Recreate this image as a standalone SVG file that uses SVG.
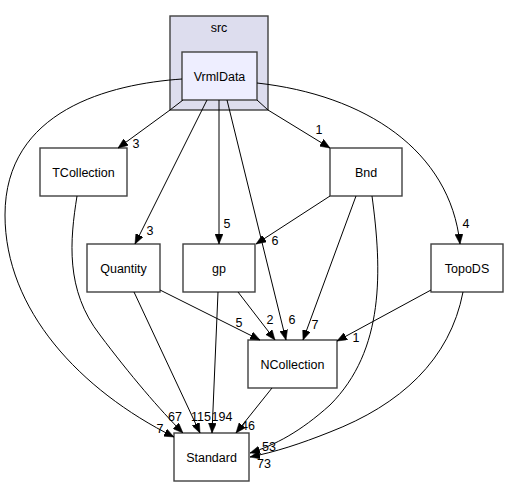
<svg xmlns="http://www.w3.org/2000/svg" width="509" height="489" viewBox="0 0 509 489">
<style>
.n rect{fill:#ffffff;stroke:#404040;stroke-width:1.4}
text{font-family:"Liberation Sans",Arial,sans-serif;font-size:12.5px;fill:#000}
.t{text-anchor:middle}
.e path{fill:none;stroke:#000;stroke-width:1;marker-end:url(#ah)}
.e text{font-size:12.5px}
</style>
<defs>
<marker id="ah" markerUnits="userSpaceOnUse" markerWidth="10" markerHeight="8" refX="10" refY="4" orient="auto">
<path d="M0,0 L10,4 L0,8 z" fill="#000" stroke="#000" stroke-width="0.5"/>
</marker>
</defs>
<rect width="509" height="489" fill="#fff"/>
<g id="cluster_src">
<rect x="170" y="16" width="98" height="94" fill="#ddddee" stroke="#404040" stroke-width="1.4"/>
<text x="219" y="32" class="t">src</text>
</g>
<g id="VrmlData" class="n">
<rect x="182" y="52" width="75" height="48" style="fill:#eeeeff"/>
<text x="219.5" y="81" class="t">VrmlData</text>
</g>
<g id="TCollection" class="n">
<rect x="40" y="148" width="87" height="48"/>
<text x="83.5" y="177" class="t">TCollection</text>
</g>
<g id="Bnd" class="n">
<rect x="330" y="148" width="72" height="48"/>
<text x="366" y="177" class="t">Bnd</text>
</g>
<g id="Quantity" class="n">
<rect x="87" y="244" width="73" height="48"/>
<text x="123.5" y="273" class="t">Quantity</text>
</g>
<g id="gp" class="n">
<rect x="183" y="244" width="72" height="48"/>
<text x="219" y="273" class="t">gp</text>
</g>
<g id="TopoDS" class="n">
<rect x="431" y="244" width="72" height="48"/>
<text x="467" y="273" class="t">TopoDS</text>
</g>
<g id="NCollection" class="n">
<rect x="248" y="340" width="89" height="48"/>
<text x="292.5" y="369" class="t">NCollection</text>
</g>
<g id="Standard" class="n">
<rect x="174" y="433" width="75" height="48"/>
<text x="211.5" y="462" class="t">Standard</text>
</g>
<g id="edges" class="e">
<path d="M182,79 C110,84 5,110 5,215 C5,310 80,390 174,437"/>
<text x="160" y="433" class="t">7</text>
<path d="M183,100 L170,110 L118,148"/>
<text x="136" y="148" class="t">3</text>
<path d="M207,100 L135,244"/>
<text x="150" y="235" class="t">3</text>
<path d="M219,100 L219,244"/>
<text x="227" y="228" class="t">5</text>
<path d="M227,100 L286,340"/>
<text x="292" y="324" class="t">6</text>
<path d="M257,100 L268,110 L330,148"/>
<text x="319" y="134" class="t">1</text>
<path d="M257,83 C365,95 450,150 460,244"/>
<text x="466" y="228" class="t">4</text>
<path d="M77,196 C70,240 65,290 100,335 C130,375 160,410 183,433"/>
<text x="175" y="421" class="t">67</text>
<path d="M134,292 L200,433"/>
<text x="201" y="421" class="t">115</text>
<path d="M160,290 L260,340"/>
<text x="239" y="327" class="t">5</text>
<path d="M218,292 L212,433"/>
<text x="222" y="421" class="t">194</text>
<path d="M238,292 L275,340"/>
<text x="270" y="324" class="t">2</text>
<path d="M330,196 L256,244"/>
<text x="275" y="245" class="t">6</text>
<path d="M356,196 L303,340"/>
<text x="315" y="329" class="t">7</text>
<path d="M372,196 C382,270 385,350 330,405 C300,432 275,445 250,453"/>
<text x="269" y="451" class="t">53</text>
<path d="M431,290 L337,341"/>
<text x="356" y="342" class="t">1</text>
<path d="M463,292 C450,360 400,405 330,432 C300,444 275,452 250,457"/>
<text x="264" y="468" class="t">73</text>
<path d="M272,388 L236,433"/>
<text x="248" y="430" class="t">46</text>
</g>
</svg>
